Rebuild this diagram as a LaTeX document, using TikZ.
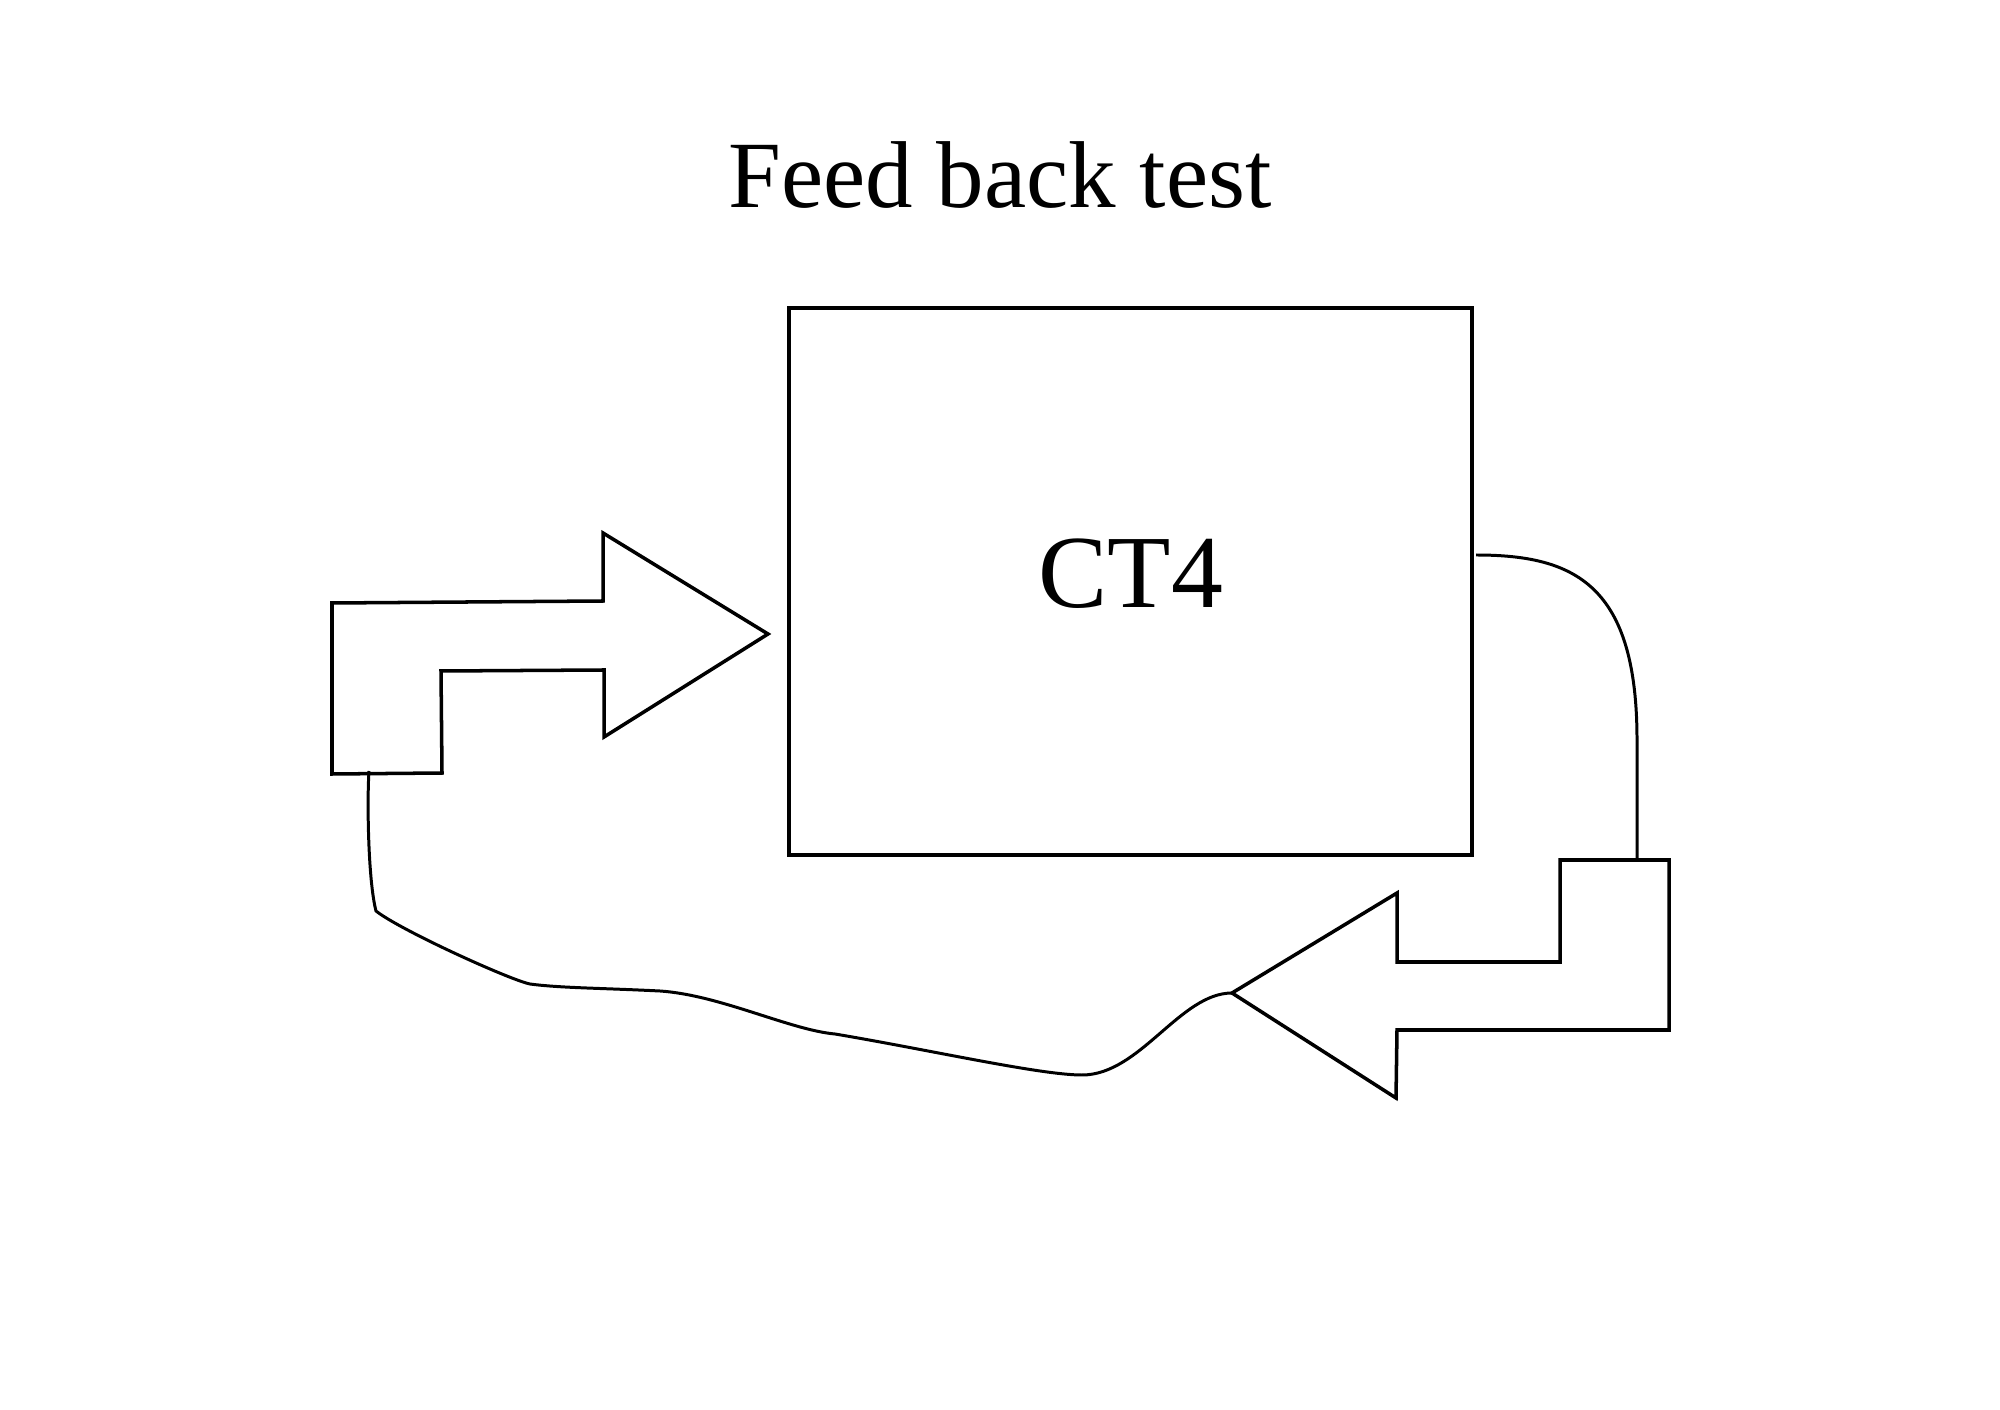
\documentclass[tikz,border=0pt]{standalone}
\usepackage{fontspec}
\setmainfont{Liberation Serif}
\usepackage{tikz}

\begin{document}
\begin{tikzpicture}[x=0.01cm, y=-0.01cm,
    shape line/.style={line width=1pt, line join=miter},
    wire/.style={line width=0.85pt},
    blk/.style={draw, shape line, rectangle, minimum width=6.83cm, minimum height=5.47cm, inner sep=0pt}]
    \useasboundingbox (0,0) rectangle (2000,1410);
    \node[anchor=base, font=\fontsize{27}{32}\selectfont] (title) at (1000,208) {Feed back test};
    \node[blk] (ct4) at (1130.5,581.5) {};
    \node[anchor=base, font=\fontsize{29.5}{35}\selectfont] (ct4label) at (1131,608) {CT4};
    \draw[shape line] (332,603) -- (603,601) -- (603,533) -- (768,634) coordinate (tipL)
      -- (604,737) -- (604,670) -- (441,671) -- (442,773) -- (332,774) -- cycle;
    \draw[shape line] (1560,860) -- (1669,860) -- (1669,1030) -- (1397,1030) -- (1396,1098)
      -- (1232,993) coordinate (tipR) -- (1397,893) -- (1397,962) -- (1560,962) -- cycle;
    \coordinate (outR) at (1476,555);
    \coordinate (backR) at (1637,860);
    \coordinate (feedL) at (369,771);
    \draw[wire] (outR) .. controls (1575,555) and (1637,585) .. (1637,740) -- (backR);
    \draw[wire] (tipR) .. controls (1180,993) and (1140,1075) .. (1082,1075)
      .. controls (1040,1075) and (930,1050) .. (835,1034)
      .. controls (790,1030) and (720,995) .. (660,991)
      .. controls (600,988) and (560,988) .. (530,984)
      .. controls (510,980) and (400,930) .. (376,911)
      .. controls (368,880) and (367,800) .. (feedL);
  \end{tikzpicture}
\end{document}
